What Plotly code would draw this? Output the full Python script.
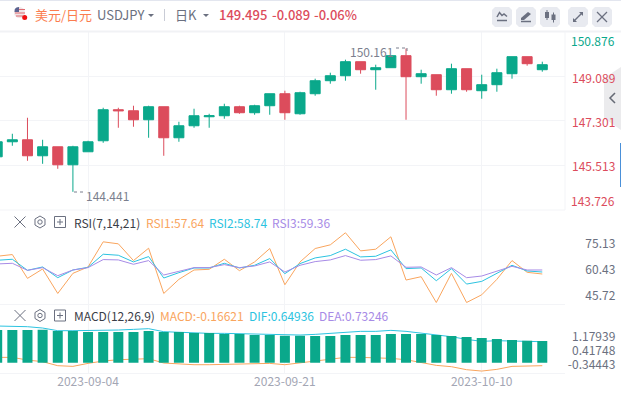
import pandas as pd
import plotly.graph_objects as go

W, H = 621, 393

dates = [d.strftime("%Y-%m-%d") for d in pd.bdate_range("2023-08-25", periods=37)]
opens = [145.849,146.454,146.535,145.890,146.253,145.527,146.051,146.495,147.745,147.704,147.341,147.866,146.616,147.099,147.462,147.503,147.866,147.624,147.906,148.390,147.583,148.390,148.914,149.115,149.680,149.357,149.438,149.922,149.075,149.156,148.551,149.398,148.511,148.753,149.196,149.882,149.357]
highs = [146.500,146.777,147.422,146.535,146.253,146.293,146.495,147.825,147.825,147.906,147.906,147.866,147.261,147.785,147.583,147.986,147.906,147.946,148.390,148.511,148.470,148.995,149.236,149.761,149.680,149.559,149.922,150.210,149.357,149.156,149.599,149.398,149.156,149.398,149.882,149.882,149.680]
lows = [145.700,146.293,145.688,145.567,145.366,144.438,146.051,146.414,147.019,147.059,146.616,145.890,146.454,147.019,147.019,147.382,147.583,147.543,147.543,147.341,147.543,148.309,148.793,148.914,149.196,148.551,149.438,147.341,148.793,148.309,148.390,148.470,148.188,148.470,148.995,149.519,149.277]
closes = [146.454,146.535,145.890,146.253,145.527,146.253,146.454,147.745,147.704,147.341,147.866,146.616,147.099,147.503,147.503,147.866,147.624,147.906,148.390,147.624,148.430,148.914,149.115,149.680,149.357,149.438,149.922,149.075,149.196,148.551,149.398,148.551,148.753,149.236,149.882,149.599,149.559]

rsi1 = [68.02,68.98,55.45,60.78,46.88,58.31,61.93,76.22,75.07,65.55,72.60,46.88,54.88,60.21,60.59,66.31,59.83,64.79,72.41,51.83,64.79,72.41,74.50,81.36,71.07,72.02,79.07,54.50,56.40,41.73,58.31,41.73,46.12,54.88,65.55,58.88,57.93]
rsi2 = [65.74,66.31,60.02,61.93,55.83,60.21,61.74,69.17,68.59,64.79,67.83,55.64,58.69,61.36,61.36,64.02,61.36,62.88,66.69,58.12,63.83,67.07,68.40,72.02,67.64,68.02,71.64,60.98,61.36,54.12,60.98,52.21,53.74,58.12,62.88,59.64,59.07]
rsi3 = [63.64,64.02,60.02,61.55,56.97,60.21,61.55,66.12,65.93,63.45,65.55,57.35,59.45,61.55,61.55,63.26,61.55,62.50,64.79,59.07,62.88,64.98,65.93,68.40,65.74,66.12,68.21,61.74,61.93,57.35,61.55,55.83,56.78,59.45,62.31,60.21,60.21]

dea_bars = [1.104,1.104,1.104,1.115,1.070,1.070,1.036,1.036,1.036,1.036,1.070,1.036,1.036,1.002,1.002,0.968,0.968,0.935,0.935,0.912,0.912,0.901,0.901,0.935,0.935,0.935,0.968,0.968,0.968,0.935,0.901,0.867,0.833,0.800,0.766,0.743,0.732]
dif_line = [1.239,1.239,1.216,1.171,1.081,1.081,1.081,1.092,1.104,1.126,1.149,1.047,1.025,0.991,0.991,0.991,0.980,0.968,0.946,0.935,0.935,0.957,0.991,1.047,1.059,1.059,1.092,1.059,1.002,0.923,0.878,0.788,0.721,0.743,0.743,0.721,0.709]
macd_line = [0.180,0.180,0.090,0.034,-0.101,-0.124,-0.023,0.056,0.101,0.124,0.135,-0.011,-0.045,-0.068,-0.068,-0.056,-0.045,-0.023,-0.023,-0.068,-0.011,0.045,0.124,0.180,0.180,0.169,0.146,0.101,0.011,-0.090,-0.135,-0.236,-0.282,-0.225,-0.124,-0.101,-0.101]

price_ticks = [149.089, 147.301, 145.513]
rsi_ticks = [75.13, 60.43, 45.72]
macd_ticks = [1.17939, 0.41748, -0.34443]
date_ticks = ["2023-09-04", "2023-09-21", "2023-10-10"]

GREEN, RED = "#0aa88b", "#dc4c5c"
ORANGE, CYAN, PURPLE = "#f9a55e", "#2cc3e0", "#a78be6"
GRID, ICON, GRAY = "#f3f4f7", "#6b7080", "#7b7f8e"
FONT = "Noto Sans CJK SC"


def px(x): return x / W
def py(y): return 1 - y / H
def dom(top, bottom): return [py(bottom), py(top)]


fig = go.Figure()
fig.add_trace(go.Candlestick(
    x=dates, open=opens, high=highs, low=lows, close=closes, yaxis="y",
    increasing=dict(line=dict(color=GREEN, width=1), fillcolor=GREEN),
    decreasing=dict(line=dict(color=RED, width=1), fillcolor=RED),
    whiskerwidth=0))
for vals, c in ((rsi1, ORANGE), (rsi2, CYAN), (rsi3, PURPLE)):
    fig.add_trace(go.Scatter(x=dates, y=vals, yaxis="y2", mode="lines", line=dict(color=c, width=1)))
fig.add_trace(go.Scatter(x=dates, y=macd_line, yaxis="y3", mode="lines", line=dict(color=ORANGE, width=1)))
fig.add_trace(go.Scatter(x=dates, y=dif_line, yaxis="y3", mode="lines", line=dict(color=CYAN, width=1)))
fig.add_trace(go.Bar(x=dates, y=dea_bars, yaxis="y4", width=0.66, marker=dict(color=GREEN, line=dict(width=0))))
fig.add_trace(go.Scatter(x=dates[:3], y=macd_ticks, yaxis="y5", mode="lines", line=dict(width=0), opacity=0))

tick_pos = px(615.3)
macd_range = [-0.358, 1.949]
common_y = dict(showline=False, zeroline=False, ticks="", anchor="free", position=tick_pos, side="left",
                tickfont=dict(family=FONT, size=12, color=ICON), tickmode="array")

shapes = []


def line(x0, y0, x1, y1, color=ICON, width=1, dash=None):
    shapes.append(dict(type="line", xref="paper", yref="paper", x0=px(x0), y0=py(y0), x1=px(x1), y1=py(y1),
                       line=dict(color=color, width=width, dash=dash), layer="above"))


def path(points, fill=None, color=None, width=1, close=False, layer="above"):
    d = "M " + " L ".join(f"{px(a):.5f},{py(b):.5f}" for a, b in points) + (" Z" if close else "")
    shapes.append(dict(type="path", xref="paper", yref="paper", path=d, fillcolor=fill,
                       line=dict(color=color or "rgba(0,0,0,0)", width=width), layer=layer))


def rect(x0, y0, x1, y1, fill=None, color=None, width=1):
    shapes.append(dict(type="rect", xref="paper", yref="paper", x0=px(x0), y0=py(y0), x1=px(x1), y1=py(y1),
                       fillcolor=fill, line=dict(color=color or "rgba(0,0,0,0)", width=width), layer="above"))


def circle(cx, cy, r, fill=None, color=None, width=1):
    shapes.append(dict(type="circle", xref="paper", yref="paper", x0=px(cx - r), y0=py(cy + r), x1=px(cx + r),
                       y1=py(cy - r), fillcolor=fill, line=dict(color=color or "rgba(0,0,0,0)", width=width),
                       layer="above"))


def rrect(x0, y0, x1, y1, r, fill):
    pts = [(x0 + r, y0), (x1 - r, y0), (x1, y0 + r), (x1, y1 - r), (x1 - r, y1), (x0 + r, y1), (x0, y1 - r), (x0, y0 + r)]
    path(pts, fill=fill, close=True)


# frame lines
line(0, 0.5, W, 0.5, "#e3e6ef")
line(0, 31.5, W, 31.5, "#f1f2f5", 2)
line(0, 210, 565, 210, GRID)
line(0, 304.5, 565, 304.5, GRID)
line(0, 373.5, 565, 373.5, GRID)
line(565, 32, 565, 210, GRID)

# flag
circle(19.5, 12.5, 5.5, fill="#f0e4e6")
line(16, 9.5, 25, 9.5, "#e06a70", 1)
line(15, 13, 25, 13, "#e06a70", 1)
line(16, 16, 23, 16, "#e06a70", 1)
path([(14.5, 12), (14.8, 9), (16.5, 7.5), (19, 7), (19, 12)], fill="#5b6390", close=True)
circle(24.7, 17.5, 2.5, fill="#f01010")

# header carets and separator
path([(148, 14), (154, 14), (151, 17)], fill=ICON, close=True)
line(164.5, 9, 164.5, 21, "#c9ccd6")
path([(203, 14), (209, 14), (206, 17)], fill=ICON, close=True)

# toolbar buttons
for x0 in (492, 516, 540, 568, 592):
    rrect(x0, 7, x0 + 20, 27, 3, "#e8eaf0")
path([(497, 17), (499.5, 12.5), (502, 15.5), (504, 14), (507, 16.5)], color=ICON, width=1.5)
line(497, 20.5, 507, 20.5, ICON, 1.5)
path([(521, 18), (528, 12), (531, 14), (524, 20), (521, 20)], fill=ICON, close=True)
line(521, 21.5, 531, 21.5, ICON, 1.5)
rect(545, 12, 549, 18, fill=ICON)
line(547, 10, 547, 20, ICON)
rect(551.5, 14.5, 555.5, 20, fill=ICON)
line(553.5, 12.5, 553.5, 22.5, ICON)
line(574, 21, 578, 17, ICON, 1.5)
path([(573, 22), (573, 18), (577, 22)], fill=ICON, close=True)
line(578, 17, 582, 13, ICON, 1.5)
path([(583, 12), (583, 16), (579, 12)], fill=ICON, close=True)
line(597, 12, 607, 22, ICON, 1.2)
line(607, 12, 597, 22, ICON, 1.2)

# side handle
path([(621, 67), (604, 78), (604, 118), (621, 130)], fill="#ebebed", close=True, layer="below")
path([(615, 93), (610, 98), (615, 103)], color="#666a75", width=1.5)
line(620.5, 143, 620.5, 187, "#4a90d9", 1)

# pane icons
for cy in (222, 315.5):
    line(14.5, cy - 5.5, 25.5, cy + 5.5, ICON)
    line(25.5, cy - 5.5, 14.5, cy + 5.5, ICON)
    path([(40, cy - 6), (45, cy - 3), (45, cy + 3), (40, cy + 6), (35, cy + 3), (35, cy - 3)], color=ICON, close=True)
    circle(40, cy, 2.2, color=ICON)
    rect(54.5, cy - 5.5, 65.5, cy + 5.5, color=ICON)
    line(57, cy, 63, cy, ICON)
    line(60, cy - 3, 60, cy + 3, ICON)

# extreme-price leaders
line(396, 48, 407, 48, GRAY, 1, "dot")
line(407, 48, 407, 51, GRAY, 1, "dot")
line(74, 192, 84, 192, GRAY, 1, "dot")

annotations = []


def text(x, y, s, color, size=12, anchor="left", weight=None):
    annotations.append(dict(xref="paper", yref="paper", x=px(x), y=py(y), text=s, showarrow=False, xanchor=anchor,
                            yanchor="middle", font=dict(family=FONT, size=size, color=color, weight=weight),
                            borderpad=0, borderwidth=0))


text(35, 14.5, "美元/日元", "#fb7d4f", 13)
text(96.5, 14.5, "USDJPY", ICON, 13)
text(174.5, 14.5, "日K", ICON, 13)
text(219, 14.5, "149.495", RED, 13, weight=500)
text(272, 14.5, "-0.089", RED, 13, weight=500)
text(314, 14.5, "-0.06%", RED, 13, weight=500)

text(74, 222, "RSI(7,14,21)", "#3a3d47")
text(146, 222, "RSI1:57.64", ORANGE)
text(209, 222, "RSI2:58.74", CYAN)
text(272, 222, "RSI3:59.36", PURPLE)

text(74, 315.5, "MACD(12,26,9)", "#3a3d47")
text(160, 315.5, "MACD:-0.16621", ORANGE)
text(249, 315.5, "DIF:0.64936", CYAN)
text(319, 315.5, "DEA:0.73246", PURPLE)

text(350, 51, "150.161", GRAY)
text(86, 195.5, "144.441", GRAY)
text(614.5, 41, "150.876", GREEN, anchor="right")
text(614.5, 201, "143.726", RED, anchor="right")

fig.update_layout(
    width=W, height=H, margin=dict(l=0, r=0, t=0, b=0), paper_bgcolor="white", plot_bgcolor="rgba(0,0,0,0)",
    showlegend=False, boxgap=0.34, boxgroupgap=0, bargap=0.34, hovermode=False,
    xaxis=dict(domain=[0, px(565)], type="category", categoryorder="array", categoryarray=dates,
               range=[0.185, 37.5], rangeslider=dict(visible=False), anchor="y3", showgrid=True, gridcolor=GRID,
               gridwidth=1, showline=False, zeroline=False, ticks="", tickmode="array", tickvals=date_ticks,
               ticktext=date_ticks, tickfont=dict(family=FONT, size=12, color="#a3a6b4"), tickangle=0),
    yaxis=dict(domain=dom(32, 209.5), range=[143.726, 150.876], tickvals=price_ticks,
               ticktext=[f"{v:.3f}" for v in price_ticks], showgrid=True, gridcolor=GRID, ticklabelshift=2,
               **{**common_y, "tickfont": dict(family=FONT, size=12, color=RED)}),
    yaxis2=dict(domain=dom(210, 304.5), range=[40.6, 94.3], tickvals=rsi_ticks,
                ticktext=[f"{v:.2f}" for v in rsi_ticks], showgrid=False, **common_y),
    yaxis3=dict(domain=dom(305, 373.3), range=macd_range, visible=False),
    yaxis4=dict(overlaying="y3", range=macd_range, visible=False),
    yaxis5=dict(overlaying="y3", range=[-0.794, 2.917], tickvals=macd_ticks,
                ticktext=[f"{v:.5f}" for v in macd_ticks], showgrid=False, **common_y),
    shapes=shapes, annotations=annotations,
)

fig.write_html("out.html", config=dict(displayModeBar=False),
               post_script="document.body.style.margin='0';")
